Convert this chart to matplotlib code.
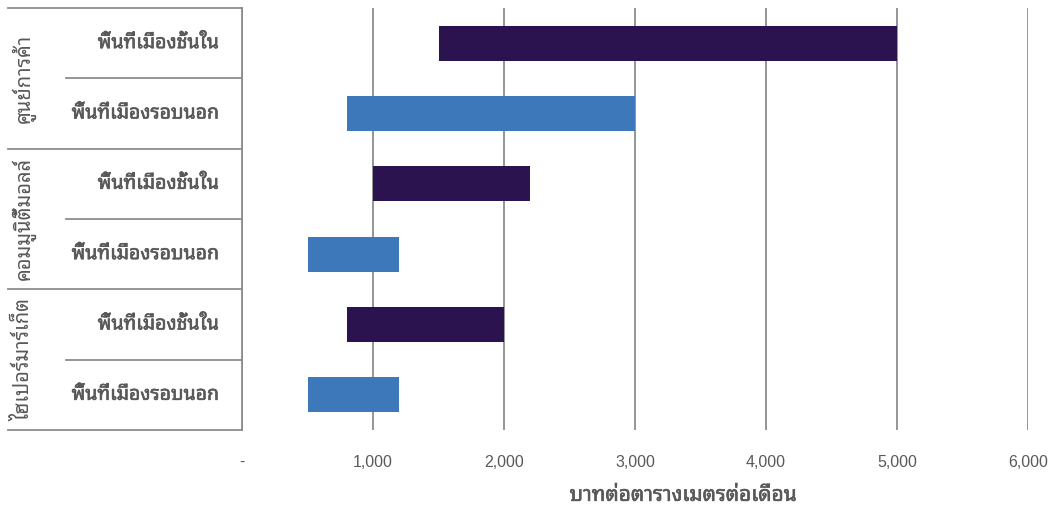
import matplotlib
matplotlib.use("Agg")
import matplotlib.pyplot as plt
import matplotlib.transforms as mtransforms
import matplotlib.patheffects as pe
from matplotlib.ticker import FuncFormatter

# =========================
# Data (baht per sq.m. per month, low / high)
# =========================
groups = ["ศูนย์การค้า", "คอมมูนิตี้มอลล์", "ไฮเปอร์มาร์เก็ต"]
areas = ["พื้นที่เมืองชั้นใน", "พื้นที่เมืองรอบนอก"]

rent_low = [1500, 800, 1000, 500, 800, 500]
rent_high = [5000, 3000, 2200, 1200, 2000, 1200]

xticks = [0, 1000, 2000, 3000, 4000, 5000, 6000]
xlabel = "บาทต่อตารางเมตรต่อเดือน"

# =========================
# Style
# =========================
thai = ["Noto Sans Thai Looped", "DejaVu Sans"]
text_grey = "#595959"
line_grey = "#8c8c8c"
colors = ["#2b1350", "#3c78ba"]
# the looped font only ships a regular weight -> fake a heavier one
heavy = [pe.withStroke(linewidth=0.45, foreground=text_grey)]

fig = plt.figure(figsize=(10.51, 5.14), dpi=100)
W, H = 1051, 514
ax = fig.add_axes([242 / W, 1 - 430 / H, (1028 - 242) / W, (430 - 8) / H])

n = len(rent_low)
ypos = list(range(n))
widths = [h - l for l, h in zip(rent_low, rent_high)]
bar_colors = [colors[i % 2] for i in range(n)]
ax.barh(ypos, widths, left=rent_low, height=0.5, color=bar_colors, zorder=3)

ax.set_xlim(0, 6000)
ax.set_ylim(n - 0.5, -0.5)
ax.set_xticks(xticks)
ax.xaxis.set_major_formatter(FuncFormatter(lambda v, p: "-" if v == 0 else f"{v:,.0f}"))
ax.tick_params(axis="x", length=0, pad=18, labelsize=11.5, labelcolor=text_grey)
ax.set_yticks([])
for lab in ax.get_xticklabels():
    lab.set_family(["Liberation Sans", "DejaVu Sans"])

ax.grid(True, axis="x", color=line_grey, linewidth=1.3, zorder=0)
for side in ["top", "right", "bottom"]:
    ax.spines[side].set_visible(False)
ax.spines["left"].set_color(line_grey)
ax.spines["left"].set_linewidth(1.3)

xl = ax.set_xlabel(xlabel, family=thai, fontsize=15, color=text_grey)
xl.set_path_effects(heavy)
ax.xaxis.set_label_coords((683 - 242) / (1028 - 242), -0.13)

# multi-level category axis
trans = mtransforms.blended_transform_factory(ax.transAxes, ax.transData)
x_outer = (8 - 242) / (1028 - 242)
x_inner = (66 - 242) / (1028 - 242)
x_label = (219 - 242) / (1028 - 242)
x_group = (24 - 242) / (1028 - 242)

for i in range(n):
    ax.text(x_label, i, areas[i % 2], transform=trans, ha="right", va="center",
            family=thai, fontsize=14, color=text_grey, path_effects=heavy)
    if i % 2 == 1:
        ax.plot([x_inner, 0], [i - 0.5, i - 0.5], transform=trans, color=line_grey,
                linewidth=1.3, clip_on=False)

for g, name in enumerate(groups):
    top = 2 * g - 0.5
    ax.plot([x_outer, 0], [top, top], transform=trans, color=line_grey,
            linewidth=1.3, clip_on=False)
    ax.text(x_group, 2 * g + 0.5, name, transform=trans, rotation=90,
            ha="center", va="center", family=thai, fontsize=14.5, color=text_grey)
ax.plot([x_outer, 0], [n - 0.5, n - 0.5], transform=trans, color=line_grey,
        linewidth=1.3, clip_on=False)

fig.savefig("out.png", dpi=100)
